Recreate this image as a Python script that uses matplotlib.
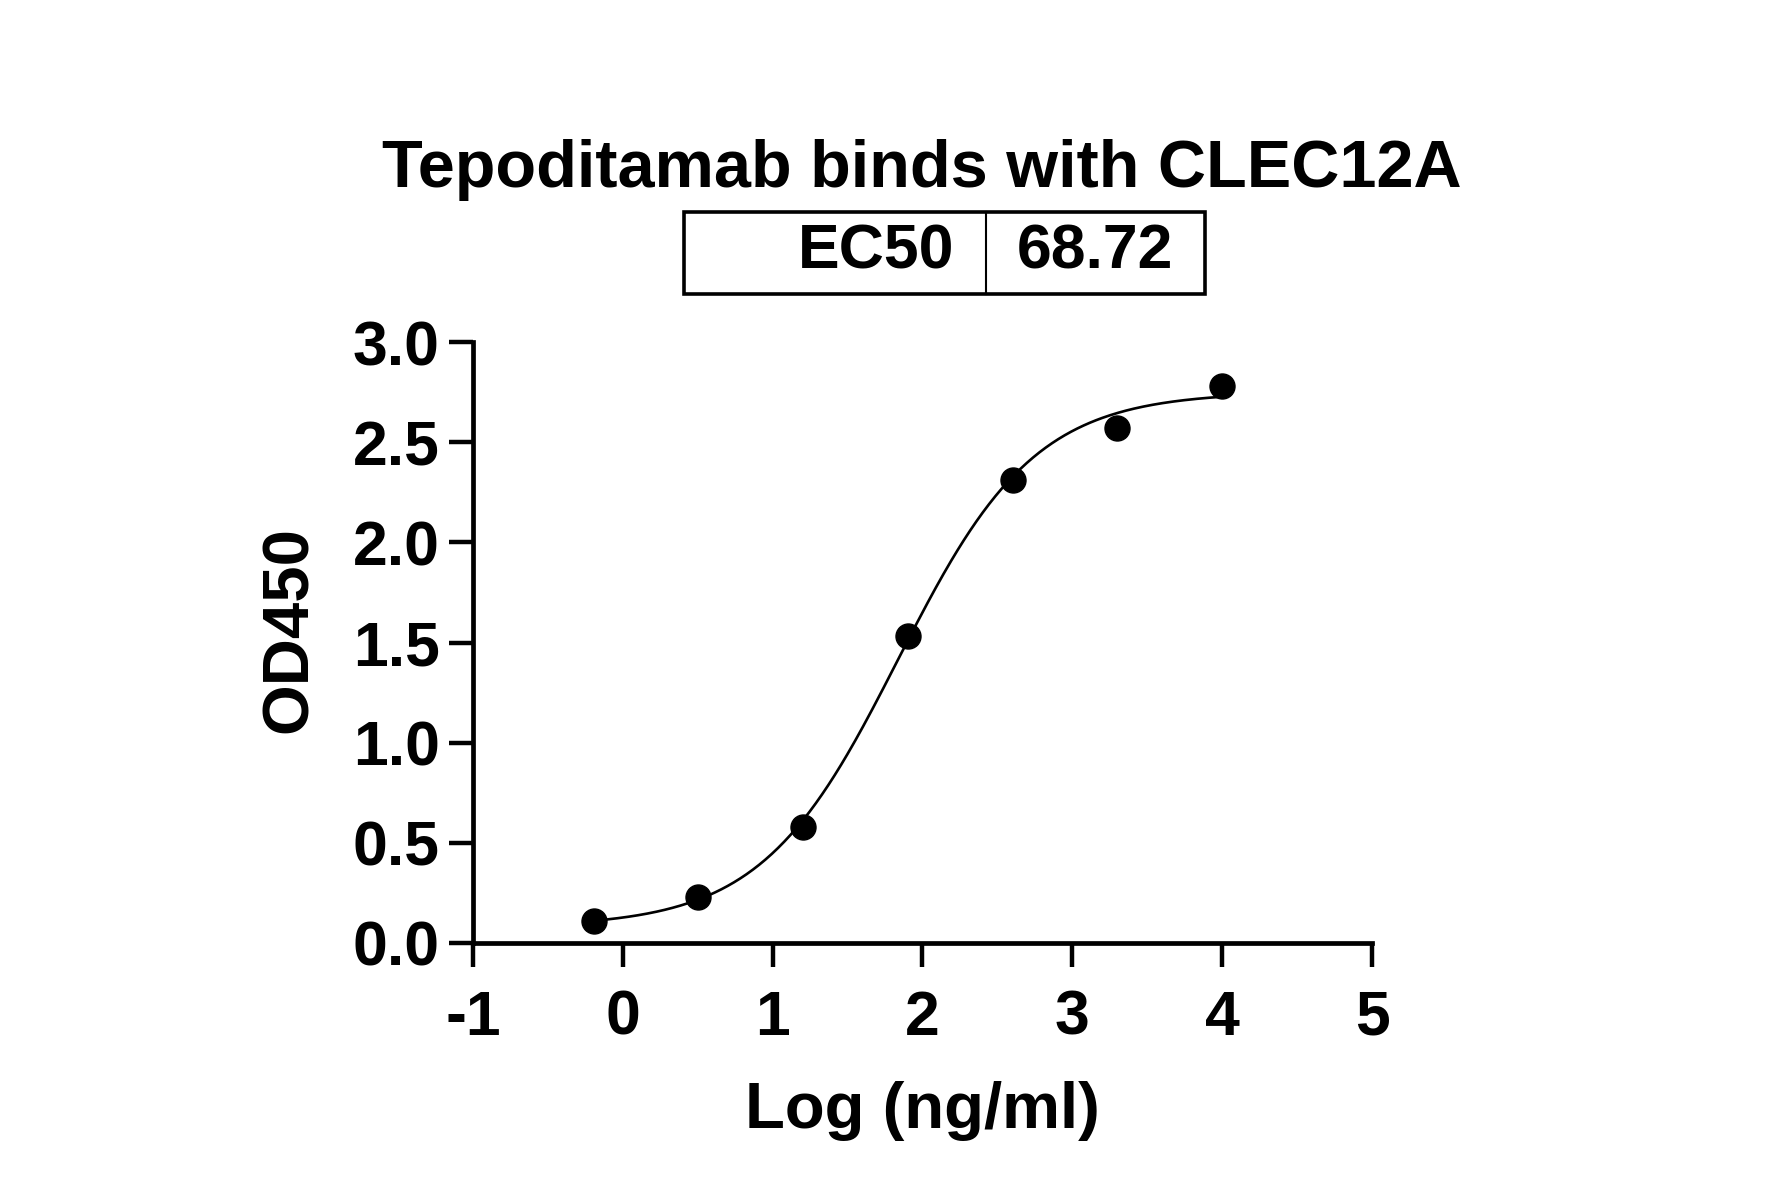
import numpy as np
import matplotlib
matplotlib.use("Agg")
import matplotlib.pyplot as plt
from matplotlib.patches import Rectangle

plt.rcParams['font.family'] = ['Liberation Sans', 'DejaVu Sans']
plt.rcParams['font.weight'] = 'bold'

# Data
log_conc = [-0.194, 0.505, 1.204, 1.903, 2.602, 3.301, 4.0]
od450 = [0.11, 0.23, 0.58, 1.53, 2.31, 2.57, 2.78]

# 4PL fit parameters
bottom = 0.08
top = 2.75
ec50 = 68.72
hill = 0.95

title = "Tepoditamab binds with CLEC12A"
x_ticks = [-1, 0, 1, 2, 3, 4, 5]
y_ticks = [0.0, 0.5, 1.0, 1.5, 2.0, 2.5, 3.0]
y_tick_labels = ["0.0", "0.5", "1.0", "1.5", "2.0", "2.5", "3.0"]

W, H = 1781, 1197
fig = plt.figure(figsize=(W / 100, H / 100), dpi=100)
ax = fig.add_axes([473 / W, 1 - 943 / H, (1372 - 473) / W, (943 - 342) / H])

xf = np.linspace(min(log_conc), max(log_conc), 400)
yf = bottom + (top - bottom) / (1 + 10 ** ((np.log10(ec50) - xf) * hill))
ax.plot(xf, yf, color='black', lw=1.9, zorder=2)
ax.plot(log_conc, od450, 'o', color='black', ms=18, zorder=3, clip_on=False)

ax.set_xlim(-1, 5)
ax.set_ylim(0, 3)
ax.set_xticks(x_ticks)
ax.set_xticklabels([str(t) for t in x_ticks])
ax.set_yticks(y_ticks)
ax.set_yticklabels(y_tick_labels)
for s in ['top', 'right']:
    ax.spines[s].set_visible(False)
for s in ['left', 'bottom']:
    ax.spines[s].set_linewidth(3.4)
    ax.spines[s].set_capstyle('projecting')
ax.tick_params(axis='both', direction='out', length=17, width=3.2, labelsize=45)
ax.tick_params(axis='y', pad=7)
ax.tick_params(axis='x', pad=16)
for lab in ax.get_xticklabels() + ax.get_yticklabels():
    lab.set_fontweight('bold')

ax.set_xlabel("Log (ng/ml)", fontsize=47, fontweight='bold')
ax.set_ylabel("OD450", fontsize=47, fontweight='bold')
ax.xaxis.set_label_coords((922 - 473) / 899, (943 - 1111) / 601)
ax.xaxis.label.set_verticalalignment('center')
ax.yaxis.set_label_coords((290 - 473) / 899, (943 - 630) / 601)
ax.yaxis.label.set_verticalalignment('center')

# Title
fig.text(922 / W, 1 - 170 / H, title, ha='center', va='center', fontsize=48, fontweight='bold')

# EC50 table
bx0, bx1, by0, by1, bdiv = 684, 1205, 212, 294, 986
rect = Rectangle((bx0 / W, 1 - by1 / H), (bx1 - bx0) / W, (by1 - by0) / H,
                 transform=fig.transFigure, fill=False, lw=2.6, edgecolor='black')
fig.add_artist(rect)
fig.add_artist(plt.Line2D([bdiv / W, bdiv / W], [1 - by1 / H, 1 - by0 / H],
                          transform=fig.transFigure, color='black', lw=1.5))
fig.text(954 / W, 1 - 252 / H, "EC50", ha='right', va='center', fontsize=45, fontweight='bold')
fig.text(1017 / W, 1 - 252 / H, "68.72", ha='left', va='center', fontsize=45, fontweight='bold')

fig.savefig("out.png", dpi=100, facecolor='white')
